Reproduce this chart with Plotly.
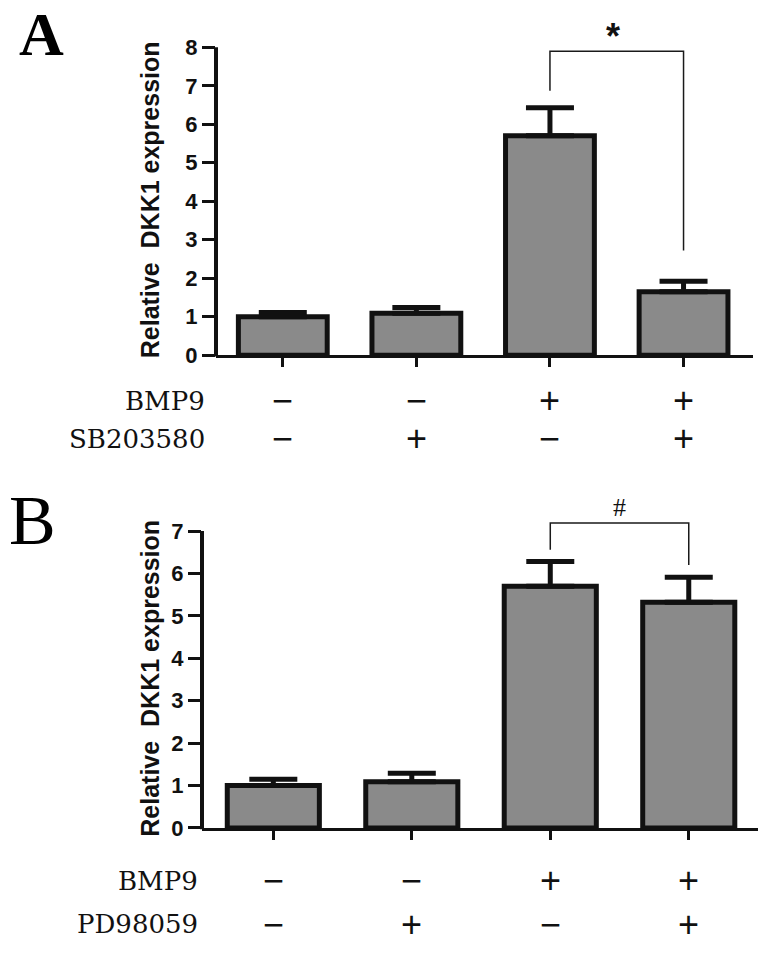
import plotly.graph_objects as go

# ---------------- data ----------------
positions = [0, 1, 2, 3]

a_means = [1.00, 1.09, 5.70, 1.65]
a_errors = [0.11, 0.15, 0.73, 0.27]
a_bmp9 = ["−", "−", "+", "+"]
a_inhib = ["−", "+", "−", "+"]
a_inhib_name = "SB203580"
a_ticks = [0, 1, 2, 3, 4, 5, 6, 7, 8]
a_bracket = {"x": [2, 3], "left_y": 6.87, "top_y": 7.9, "right_y": 2.72}
a_sig = {"text": "<b>*</b>", "x": 2.47, "y": 8.28}

b_means = [1.00, 1.09, 5.70, 5.32]
b_errors = [0.15, 0.20, 0.58, 0.59]
b_bmp9 = ["−", "−", "+", "+"]
b_inhib = ["−", "+", "−", "+"]
b_inhib_name = "PD98059"
b_ticks = [0, 1, 2, 3, 4, 5, 6, 7]
b_bracket = {"x": [2, 3], "left_y": 6.56, "top_y": 7.19, "right_y": 6.2}
b_sig = {"text": "#", "x": 2.50, "y": 7.55}

y_title = "Relative\u00a0 DKK1 expression"

# ---------------- layout helpers ----------------
W, H = 763, 963
BAR_FILL = "#8a8a8a"
INK = "#111111"


def px_x(p):
    return p / W


def px_y(p):
    return 1 - p / H


panels = [
    dict(means=a_means, errs=a_errors, bmp=a_bmp9, inh=a_inhib, inh_name=a_inhib_name,
         ticks=a_ticks, bracket=a_bracket, sig=a_sig, sig_font="Liberation Sans", sig_size=36,
         xdom=[px_x(216), px_x(753)], xrange=[-0.5, 3.52],
         ydom=[px_y(360), px_y(12.9)], yrange=[0, 8.9],
         title_y=203, rows=[406, 445], row_right=207,
         letter="A", letter_bold=True, letter_xy=(41, 34), letter_size=62),
    dict(means=b_means, errs=b_errors, bmp=b_bmp9, inh=b_inhib, inh_name=b_inhib_name,
         ticks=b_ticks, bracket=b_bracket, sig=b_sig, sig_font="Liberation Serif", sig_size=26,
         xdom=[px_x(202), px_x(758)], xrange=[-0.515, 3.5],
         ydom=[px_y(839.3), px_y(503.9)], yrange=[0, 7.8],
         title_y=688, rows=[893, 937], row_right=200,
         letter="B", letter_bold=False, letter_xy=(32, 528), letter_size=70),
]

fig = go.Figure()
shapes = []
annotations = []

for i, p in enumerate(panels):
    suffix = "" if i == 0 else str(i + 1)
    xa, ya = "x" + suffix, "y" + suffix

    fig.add_trace(go.Bar(
        x=positions, y=p["means"], width=0.665,
        marker=dict(color=BAR_FILL, line=dict(color=INK, width=5)),
        error_y=dict(type="data", array=p["errs"], arrayminus=[0] * len(p["errs"]),
                     symmetric=False, color=INK, thickness=5, width=24),
        xaxis=xa, yaxis=ya, showlegend=False, hoverinfo="skip",
    ))

    xkey = "xaxis" + suffix
    ykey = "yaxis" + suffix
    fig.layout[xkey] = dict(
        domain=p["xdom"], range=p["xrange"], anchor=ya,
        showline=True, linecolor=INK, linewidth=3,
        ticks="outside", ticklen=9, tickwidth=3, tickcolor=INK,
        tickvals=positions, showticklabels=False,
        showgrid=False, zeroline=False, fixedrange=True,
    )
    fig.layout[ykey] = dict(
        domain=p["ydom"], range=p["yrange"], anchor=xa,
        showline=False, tickvals=p["ticks"], ticktext=[str(t) for t in p["ticks"]],
        ticks="outside", ticklen=13, tickwidth=3, tickcolor=INK,
        tickfont=dict(family="Liberation Sans, Arial", size=22, color=INK, weight="bold"),
        showgrid=False, zeroline=False, fixedrange=True,
    )

    # y-axis line stopping at the top tick
    top_frac = p["ticks"][-1] / p["yrange"][1]
    shapes.append(dict(type="line", xref=xa + " domain", yref=ya + " domain",
                       x0=0, x1=0, y0=-0.004, y1=top_frac,
                       line=dict(color=INK, width=4)))

    # significance bracket
    br = p["bracket"]
    shapes.append(dict(
        type="path", xref=xa, yref=ya,
        path=f"M {br['x'][0]},{br['left_y']} L {br['x'][0]},{br['top_y']} "
             f"L {br['x'][1]},{br['top_y']} L {br['x'][1]},{br['right_y']}",
        line=dict(color="#1a1a1a", width=1.5),
    ))
    annotations.append(dict(
        text=p["sig"]["text"], x=p["sig"]["x"], y=p["sig"]["y"], xref=xa, yref=ya,
        showarrow=False, xanchor="center", yanchor="middle",
        font=dict(family=p["sig_font"], size=p["sig_size"], color=INK),
    ))

    # y title
    annotations.append(dict(
        text=y_title, textangle=-90, x=px_x(150), y=px_y(p["title_y"]),
        xref="paper", yref="paper", showarrow=False,
        xanchor="center", yanchor="middle",
        font=dict(family="Liberation Sans, Arial", size=25, color=INK, weight="bold"),
    ))

    # treatment rows
    for label, signs, row_y in (("BMP9", p["bmp"], p["rows"][0]),
                                (p["inh_name"], p["inh"], p["rows"][1])):
        annotations.append(dict(
            text=label, x=px_x(p["row_right"]), y=px_y(row_y),
            xref="paper", yref="paper", showarrow=False,
            xanchor="right", yanchor="middle",
            font=dict(family="DejaVu Serif", size=26, color=INK),
        ))
        for pos, s in zip(positions, signs):
            annotations.append(dict(
                text=s, x=pos, y=px_y(row_y), xref=xa, yref="paper",
                showarrow=False, xanchor="center", yanchor="middle",
                font=dict(family="Liberation Sans, Arial", size=36, color=INK),
            ))

    # panel letter
    annotations.append(dict(
        text=f"<b>{p['letter']}</b>" if p["letter_bold"] else p["letter"],
        x=px_x(p["letter_xy"][0]), y=px_y(p["letter_xy"][1]),
        xref="paper", yref="paper", showarrow=False,
        xanchor="center", yanchor="middle",
        font=dict(family="Liberation Serif, Times New Roman", size=p["letter_size"],
                  color="#000000"),
    ))

fig.update_layout(
    width=W, height=H,
    margin=dict(l=0, r=0, t=0, b=0),
    paper_bgcolor="white", plot_bgcolor="white",
    shapes=shapes, annotations=annotations,
    bargap=0.3,
)

fig.write_html("out.html",
               config={"displayModeBar": False},
               post_script="document.body.style.margin='0px';document.body.style.padding='0px';")
